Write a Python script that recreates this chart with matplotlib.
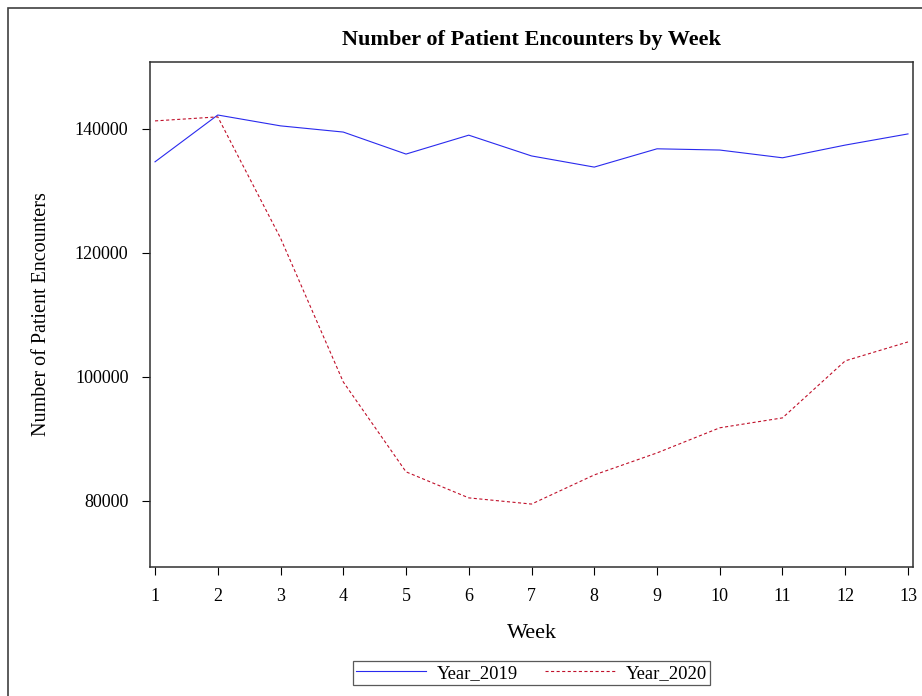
import matplotlib.pyplot as plt
from matplotlib.patches import Rectangle

weeks = list(range(1, 14))
year_2019 = [134700, 142250, 140500, 139500, 135950, 139000, 135650,
             133850, 136800, 136600, 135350, 137400, 139200]
year_2020 = [141300, 141950, 122400, 99200, 84700, 80500, 79500,
             84200, 87750, 91800, 93400, 102600, 105650]
y_ticks = [80000, 100000, 120000, 140000]

plt.rcParams['font.family'] = ['Liberation Serif', 'DejaVu Serif']

fig = plt.figure(figsize=(9.22, 6.96), dpi=100)
ax = fig.add_axes([150 / 922, 1 - 567 / 696, 763 / 922, 505 / 696])

# outer border
fig.patches.append(Rectangle((8 / 922, -0.01), 1.02, 1 - 8 / 696 + 0.01,
                             transform=fig.transFigure, fill=False,
                             edgecolor='#404040', linewidth=1.2))

ax.plot(weeks, year_2019, color='#2a2aee', linewidth=0.8, label='Year_2019')
ax.plot(weeks, year_2020, color='#c0102a', linewidth=0.8,
        linestyle=(0, (2.8, 2.2)), label='Year_2020')

ax.set_xlim(0.92, 13.08)
ax.set_ylim(69350, 150800)
ax.set_xticks(weeks)
ax.set_yticks(y_ticks)
ax.tick_params(labelsize=13, length=6, width=0.8, direction='out')
ax.tick_params(axis='x', pad=9)
ax.tick_params(axis='y', pad=9.5)
for s in ax.spines.values():
    s.set_linewidth(1.1)
    s.set_color('#303030')

ax.set_title('Number of Patient Encounters by Week', fontsize=16,
             fontweight='bold', pad=12)
ax.set_xlabel('Week', fontsize=16, labelpad=14)
ax.set_ylabel('Number of Patient Encounters', fontsize=14.5, labelpad=17)

leg = ax.legend(loc='upper center', bbox_to_anchor=(0.5, -0.186), ncol=2,
                fontsize=13.4, frameon=True, fancybox=False,
                handlelength=3.75, columnspacing=1.5, borderpad=0.2,
                handletextpad=0.55, borderaxespad=0)
leg.get_frame().set_edgecolor('#303030')
leg.get_frame().set_linewidth(0.9)

fig.savefig('out.png', dpi=100)
